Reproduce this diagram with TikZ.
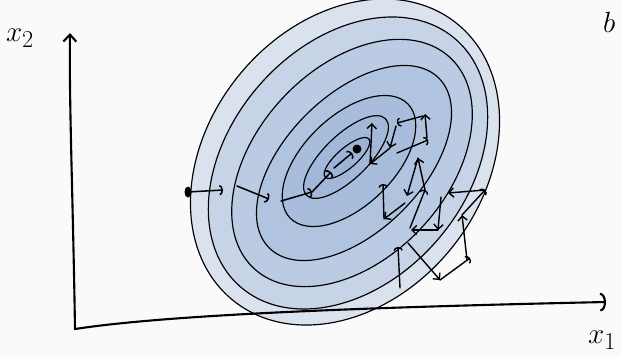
\documentclass[tikz,border=0pt]{standalone}
\usetikzlibrary{arrows.meta}

\definecolor{ringA}{HTML}{DAE2EE}
\definecolor{ringB}{HTML}{C7D4E7}
\definecolor{ringC}{HTML}{BACBE3}
\definecolor{ringD}{HTML}{B0C3DF}
\definecolor{ringE}{HTML}{A8BDDC}
\definecolor{ringF}{HTML}{A1B8D9}
\definecolor{ringG}{HTML}{9CB4D7}

\begin{document}
\begin{tikzpicture}[
    x=0.03cm, y=-0.03cm,
    line cap=round, line join=round,
    level/.style={draw=black, line width=1pt},
    axis/.style={line width=1.8pt},
    glide/.style={line width=1.3pt, -{Arc Barb[length=3pt, width=9pt]}},
    hop/.style={line width=1.2pt, -{Straight Barb[length=4pt, width=8pt]}},
    hook/.style={line width=1.2pt, -{Arc Barb[length=3pt, width=8pt]}},
    lbl/.style={inner sep=0pt, font=\fontsize{30}{30}\selectfont}
]
    \useasboundingbox[fill=white!98!black] (0,0) rectangle (621,357);

    % Hoehenlinien
    \draw[level, fill=ringA] (345,162) circle [x radius=178, y radius=137, rotate=51];
    \draw[level, fill=ringB] (348,163) circle [x radius=164, y radius=118, rotate=49];
    \draw[level, fill=ringC] (352,163) circle [x radius=144, y radius=95, rotate=47];
    \draw[level, fill=ringD] (354,163) circle [x radius=120, y radius=68, rotate=45];
    \draw[level, fill=ringE] (349,161) circle [x radius=82, y radius=45, rotate=44];
    \draw[level, fill=ringF] (346,157) circle [x radius=55, y radius=22, rotate=44];
    \draw[level, fill=ringG] (347,158) circle [x radius=29, y radius=10, rotate=41];

    % Achsen
    \coordinate (O) at (75,329);
    \coordinate (Y) at (70,33);
    \coordinate (X) at (606,302);
    \draw[axis, -{Straight Barb[length=6pt, width=11pt]}] (O) .. controls (73,200) and (69,100) .. (Y);
    \draw[axis, -{Arc Barb[length=5pt, width=16pt]}] (O) .. controls (160,316) and (330,308) .. (X);
    \node[lbl] (ylab) at (20,38) {$x_2$};
    \node[lbl, anchor=west] (xlab) at (588,340) {$x_1$};
    \node[lbl, anchor=west, font=\fontsize{36}{36}\selectfont] (tag) at (603,22) {$b$};

    % Weg links
    \coordinate (a0) at (188,192);
    \coordinate (a1) at (223,190);
    \coordinate (a2) at (237,186);
    \coordinate (a3) at (269,199);
    \coordinate (a4) at (281,201);
    \coordinate (a5) at (312,192);
    \coordinate (a6) at (331,172);
    \coordinate (a7) at (334,168);
    \coordinate (a8) at (352,153);
    \coordinate (min) at (357,149);
    \fill (a0) circle [x radius=3.5, y radius=5.5];
    \fill (min) circle [radius=4.5];
    \draw[glide] (a0) -- (a1);
    \draw[glide] (a2) -- (a3);
    \draw[glide] (a4) -- (a5);
    \draw[glide] (a5) -- (a6);
    \draw[glide] (a7) -- (a8);

    % Zickzack rechts
    \coordinate (z1) at (400,288);
    \coordinate (z2) at (398,247);
    \coordinate (z3) at (408,243);
    \coordinate (z4) at (440,280);
    \coordinate (z5) at (470,258);
    \coordinate (z6) at (467,260);
    \coordinate (z7) at (462,215);
    \coordinate (z8) at (485,190);
    \coordinate (z9) at (448,193);
    \coordinate (z10) at (441,197);
    \coordinate (z11) at (438,230);
    \coordinate (z12) at (411,230);
    \coordinate (z13) at (410,228);
    \coordinate (z14) at (425,190);
    \coordinate (z15) at (418,158);
    \coordinate (z16) at (407,196);
    \coordinate (z17) at (405,203);
    \coordinate (z18) at (384,219);
    \coordinate (z19) at (383,184);
    \coordinate (z20) at (397,153);
    \coordinate (z21) at (428,140);
    \coordinate (z22) at (427,138);
    \coordinate (z23) at (425,114);
    \coordinate (z24) at (423,116);
    \coordinate (z25) at (397,123);
    \coordinate (z26) at (396,126);
    \coordinate (z27) at (390,148);
    \coordinate (z28) at (370,164);
    \coordinate (z29) at (372,123);
    \draw[hook] (z1) -- (z2);
    \draw[hop] (z3) -- (z4);
    \draw[hook] (z4) -- (z5);
    \draw[hop] (z6) -- (z7);
    \draw[hook] (z7) -- (z8);
    \draw[hop] (z8) -- (z9);
    \draw[hop] (z10) -- (z11);
    \draw[hop] (z11) -- (z12);
    \draw[hook] (z13) -- (z14);
    \draw[hop] (z14) -- (z15);
    \draw[hop] (z15) -- (z16);
    \draw[hop] (z17) -- (z18);
    \draw[hook] (z18) -- (z19);
    \draw[hook] (z20) -- (z21);
    \draw[hop] (z22) -- (z23);
    \draw[hook] (z24) -- (z25);
    \draw[hop] (z26) -- (z27);
    \draw[hop] (z27) -- (z28);
    \draw[hop] (z28) -- (z29);

\end{tikzpicture}
\end{document}
